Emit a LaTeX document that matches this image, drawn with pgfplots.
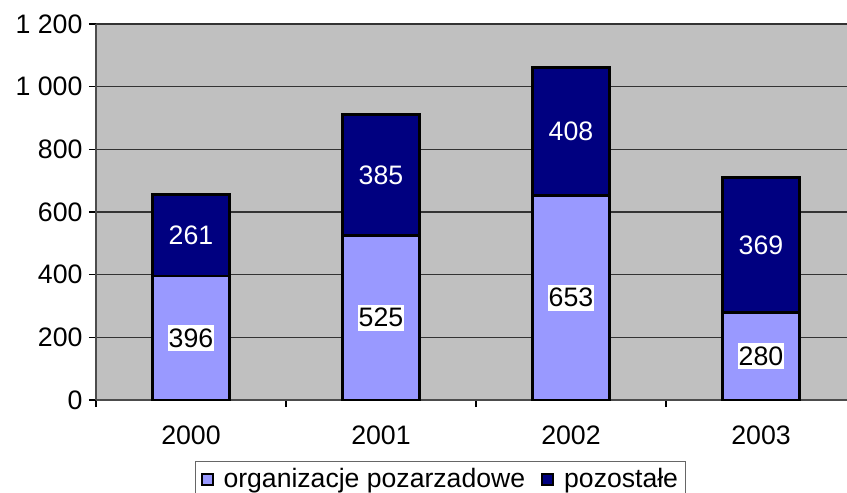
\documentclass[border=0pt]{standalone}
\usepackage{pgfplots}
\pgfplotsset{compat=1.18}
\usepackage{fontspec}
\setmainfont{Liberation Sans}
\definecolor{lightb}{HTML}{9999FF}
\definecolor{darkb}{HTML}{000080}
\definecolor{bg}{HTML}{C0C0C0}
\begin{document}
\begin{tikzpicture}
\begin{axis}[
  scale only axis,
  width=760pt, height=376pt,
  xmin=-0.5, xmax=3.5, ymin=0, ymax=1200,
  axis background/.style={fill=bg},
  axis x line*=bottom, axis y line*=left,
  axis line style={black!70, line width=2pt},
  ytick={0,200,...,1200},
  ymajorgrids, grid style={black!80, line width=1.4pt},
  xtick={-0.5,0.5,1.5,2.5,3.5}, xticklabels={},
  extra x ticks={0,1,2,3}, extra x tick labels={2000,2001,2002,2003},
  extra x tick style={major tick length=0pt},
  tick align=outside,
  major tick length=7pt,
  tick style={black, line width=1.2pt},
  /pgf/number format/1000 sep={\ },
  /pgf/number format/assume math mode=true,
  tick label style={font=\fontsize{26.7}{30}\selectfont},
  xticklabel style={yshift=-22pt},
  yticklabel style={xshift=-3pt},
  legend image code/.code={\draw[#1, line width=2pt] (0pt,-6pt) rectangle (11pt,5pt);},
  legend style={at={(axis description cs:0.1303,-0.1622)}, anchor=north west,
    draw=black!60, line width=1pt, fill=white,
    font=\fontsize{26.6}{30}\selectfont, legend columns=2,
    inner xsep=5pt, inner ysep=5pt,
    /tikz/every odd column/.append style={column sep=8pt},
    /tikz/every even column/.append style={column sep=14pt}},
  legend cell align=left,
]
\addlegendimage{fill=lightb, draw=black}
\addlegendentry{organizacje pozarzadowe}
\addlegendimage{fill=darkb, draw=black}
\addlegendentry{pozostałe}
\addplot[ybar, bar width=77pt, bar shift=0pt, fill=darkb, draw=black, line width=2.8pt, forget plot]
  coordinates {(0,657) (1,910) (2,1061) (3,710)};
\addplot[ybar, bar width=77pt, bar shift=0pt, fill=lightb, draw=black, line width=2.8pt, forget plot]
  coordinates {(0,396) (1,525) (2,653) (3,280)};
\addplot[only marks, mark=none, forget plot, nodes near coords, point meta=explicit symbolic,
  nodes near coords style={anchor=center, fill=white, inner xsep=1pt, inner ysep=3.5pt, text=black, font=\fontsize{26.7}{30}\selectfont}]
  coordinates {(0,198) [396] (1,262.5) [525] (2,326.5) [653] (3,140) [280]};
\addplot[only marks, mark=none, forget plot, nodes near coords, point meta=explicit symbolic,
  nodes near coords style={anchor=center, inner sep=1pt, text=white, font=\fontsize{26.7}{30}\selectfont}]
  coordinates {(0,526.5) [261] (1,717.5) [385] (2,857) [408] (3,495) [369]};
\coordinate (SW) at (rel axis cs:0,0);
\coordinate (NE) at (rel axis cs:1,1);
\end{axis}
\pgfresetboundingbox
\path[use as bounding box] ([shift={(-96pt,-92pt)}]SW) rectangle ([shift={(-9pt,24pt)}]NE);
\end{tikzpicture}
\end{document}
